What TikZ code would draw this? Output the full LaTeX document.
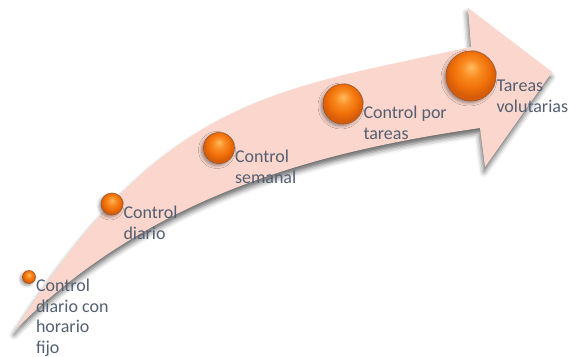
\documentclass[tikz,border=0pt]{standalone}
\usepackage{fontspec}
\setmainfont{Carlito}
\usetikzlibrary{shadows.blur}

\definecolor{arrowpink}{RGB}{250,214,204}
\definecolor{orbedge}{RGB}{165,85,35}
\definecolor{labelgrey}{RGB}{84,95,114}
\definecolor{orbhi}{RGB}{255,188,95}
\definecolor{orbmid}{RGB}{250,140,35}
\definecolor{orbmain}{RGB}{240,112,8}
\definecolor{orbdark}{RGB}{214,92,8}

% orange sphere, lighter towards the top
\pgfdeclareradialshading{orb}{\pgfpoint{0bp}{9bp}}{%
  color(0bp)=(orbhi); color(9bp)=(orbmid); color(18bp)=(orbmain);
  color(25bp)=(orbdark); color(50bp)=(orbdark)}

\begin{document}
\begin{tikzpicture}[x=1pt,y=-1pt,
  ball/.style={circle,inner sep=0pt,draw=orbedge,line width=0.6pt,shading=orb,
    blur shadow={shadow xshift=-2pt,shadow yshift=-2pt,shadow blur radius=3pt,shadow opacity=40}},
  lbl/.style={anchor=north west,align=left,inner sep=0pt,text=labelgrey,
    font=\fontsize{18}{20.5}\selectfont}]
\useasboundingbox (0,0) rectangle (572,356);

% curved arrow
\fill[arrowpink,blur shadow={shadow xshift=-1pt,shadow yshift=-5pt,shadow blur radius=5pt,shadow opacity=60}]
  (15,330) .. controls (165,96) and (271,91) .. (471,47)
  -- (468,8) -- (552,72) -- (485,167) -- (480,128)
  .. controls (330,150) and (155,190) .. (15,330) -- cycle;

% steps
\node[ball,minimum size=13pt] (b1) at (29,277) {};
\node[ball,minimum size=22pt] (b2) at (112,204) {};
\node[ball,minimum size=31pt] (b3) at (219,148) {};
\node[ball,minimum size=40pt] (b4) at (343,104) {};
\node[ball,minimum size=50pt] (b5) at (471,76) {};

\node[lbl] (l1) at ([yshift=-2pt]b1.east) {Control\\diario con\\horario\\fijo};
\node[lbl] (l2) at ([yshift=-2pt]b2.east) {Control\\diario};
\node[lbl] (l3) at ([yshift=-2pt]b3.east) {Control\\semanal};
\node[lbl] (l4) at ([yshift=-2pt]b4.east) {Control por\\tareas};
\node[lbl] (l5) at ([yshift=-4pt]b5.east) {Tareas\\volutarias};

\end{tikzpicture}
\end{document}
